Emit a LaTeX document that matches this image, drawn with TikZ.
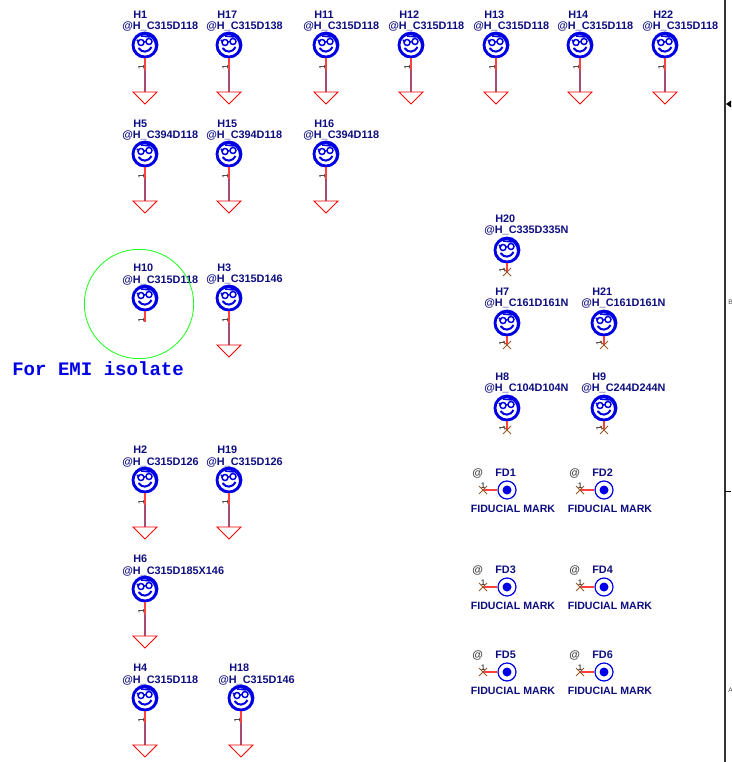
\documentclass[tikz,border=0pt]{standalone}
\usepackage{fontspec}
\setmainfont{Liberation Sans}
\newfontfamily\monofam{Liberation Mono}
\usetikzlibrary{positioning}
\definecolor{mnavy}{rgb}{0.05, 0.05, 0.5}
\definecolor{mblue}{rgb}{0.0, 0.0, 0.9}
\definecolor{mnet}{rgb}{0.65, 0.3, 0.45}
\definecolor{mcross}{rgb}{0.6, 0.35, 0.15}
\tikzset{lbl/.style = {font=\bfseries\fontsize{8.15}{9}\selectfont, text=mnavy, inner sep=0, anchor=west}}
\tikzset{marklbl/.style = {font=\bfseries\fontsize{7.95}{9}\selectfont, text=mnavy, inner sep=0}}
\tikzset{ring/.style = {circle, draw=mblue, line width=2.1pt, minimum size=18pt, inner sep=0}}
\tikzset{fidring/.style = {circle, draw=mblue, line width=0.9pt, minimum size=13.5pt, inner sep=0}}
\tikzset{pinno/.style = {font=\fontsize{6}{6}\selectfont, inner sep=0}}
\tikzset{pinline/.style = {red!75, line width=0.8pt}}
\tikzset{netline/.style = {mnet, line width=0.8pt}}
\tikzset{gndmark/.pic = {\draw [red, line width=0.6pt] (-12, 0) -- (12, 0) -- (0, 12) -- cycle;}}
\tikzset{crossmark/.pic = {\draw [mcross, line width=0.6pt] (-4, -4) -- (4, 4) (-4, 4) -- (4, -4);}}
\tikzset{facemark/.pic = {
    \draw [mblue, line width=1pt] (-0.8, 1) circle (11.5);
    \draw [mblue, line width=1.1pt] (-4, -2.5) circle (3) (4, -3.5) circle (3);
    \draw [mblue, line width=1.1pt] (-1, -3) -- (1, -3.5) (-8, -5) -- (-6, -3) (-4, -9) -- (5, -8);
    \draw [mblue, line width=1.5pt] (-6.5, 3) .. controls (-3, 8) and (3, 8) .. (6.5, 2);}}
\begin{document}
\begin{tikzpicture}[x=0.75pt, y=-0.75pt]
    \useasboundingbox (0, 0) rectangle (731, 762);

    % holes going to ground
    \foreach \x/\y/\nm/\rf in {145/45/H1/C315D118, 229/45/H17/C315D138, 326/45/H11/C315D118,
                               411/45/H12/C315D118, 496/45/H13/C315D118, 580/45/H14/C315D118,
                               665/45/H22/C315D118, 145/154/H5/C394D118, 229/154/H15/C394D118,
                               326/154/H16/C394D118, 229/298/H3/C315D146, 145/480/H2/C315D126,
                               229/480/H19/C315D126, 145/589/H6/C315D185X146, 145/698/H4/C315D118,
                               241/698/H18/C315D146} {
      \node [ring] (\nm) at (\x, \y) {};
      \pic at (\nm) {facemark};
      \node [lbl] (\nm name) at (\x - 12, \y - 30) {\nm};
      \node [lbl] (\nm ref) at (\x - 23, \y - 18) {@H\_\rf};
      \coordinate (\nm pin) at (\x, \y + 25);
      \coordinate (\nm gnd) at (\x, \y + 47);
      \node [pinno, rotate=90] (\nm no) at (\x - 4, \y + 22) {1};
      \draw [pinline] (\nm) -- (\nm pin);
      \draw [netline] (\nm pin) -- (\nm gnd);
      \pic at (\nm gnd) {gndmark};
    }

    % the isolated one
    \node [ring] (H10) at (145, 298) {};
    \pic at (H10) {facemark};
    \node [lbl] (H10 name) at (133, 268) {H10};
    \node [lbl] (H10 ref) at (122, 281) {@H\_C315D118};
    \coordinate (H10 pin) at (145, 322);
    \node [pinno, rotate=90] (H10 no) at (141, 320) {1};
    \draw [pinline] (H10) -- (H10 pin);
    \node [circle, draw=green!90, line width=0.6pt, minimum size=82pt, inner sep=0] (emi) at (139, 304) {};
    \node [font=\monofam\bfseries\fontsize{14.3}{15}\selectfont, text=blue!90!black, inner sep=0, anchor=west] (emi text) at (12, 369) {For EMI isolate};

    % holes with no net
    \foreach \x/\y/\nm/\rf in {507/250/H20/C335D335N, 507/323/H7/C161D161N, 604/323/H21/C161D161N,
                               507/408/H8/C104D104N, 604/408/H9/C244D244N} {
      \node [ring] (\nm) at (\x, \y) {};
      \pic at (\nm) {facemark};
      \node [lbl] (\nm name) at (\x - 12, \y - 31) {\nm};
      \node [lbl] (\nm ref) at (\x - 23, \y - 19) {@H\_\rf};
      \coordinate (\nm end) at (\x, \y + 22);
      \node [pinno, rotate=90] (\nm no) at (\x - 5, \y + 20) {1};
      \draw [pinline] (\nm) -- (\nm end);
      \pic at (\nm end) {crossmark};
    }

    % fiducials
    \foreach \x/\y/\nm in {507/490/FD1, 604/490/FD2, 507/587/FD3, 604/587/FD4, 507/672/FD5, 604/672/FD6} {
      \node [fidring] (\nm) at (\x, \y) {};
      \fill [mblue] (\nm) circle (4.5);
      \coordinate (\nm end) at (\x - 24, \y);
      \draw [pinline] (\nm) -- (\nm end);
      \pic at (\nm end) {crossmark};
      \node [pinno] (\nm no) at (\x - 24, \y - 4) {1};
      \node [lbl, text=black!75] (\nm at) at (\x - 35, \y - 17) {@};
      \node [lbl] (\nm name) at (\x - 12, \y - 17) {\nm};
      \node [marklbl] (\nm mark) at (\x + 6, \y + 19) {FIDUCIAL MARK};
    }

    % sheet border
    \coordinate (top) at (725, 0);
    \coordinate (bottom) at (725, 762);
    \draw [black!80, line width=1.1pt] (top) -- (bottom);
    \fill (726, 104) -- (731, 100.5) -- (731, 107.5) -- cycle;
    \draw [line width=0.7pt] (725, 491) -- (731, 491);
    \node [font=\fontsize{5}{6}\selectfont, text=black!70, inner sep=0, anchor=west] (zoneb) at (728, 302) {B};
    \node [font=\fontsize{5}{6}\selectfont, text=black!70, inner sep=0, anchor=west] (zonea) at (728, 690) {A};
  \end{tikzpicture}
\end{document}
